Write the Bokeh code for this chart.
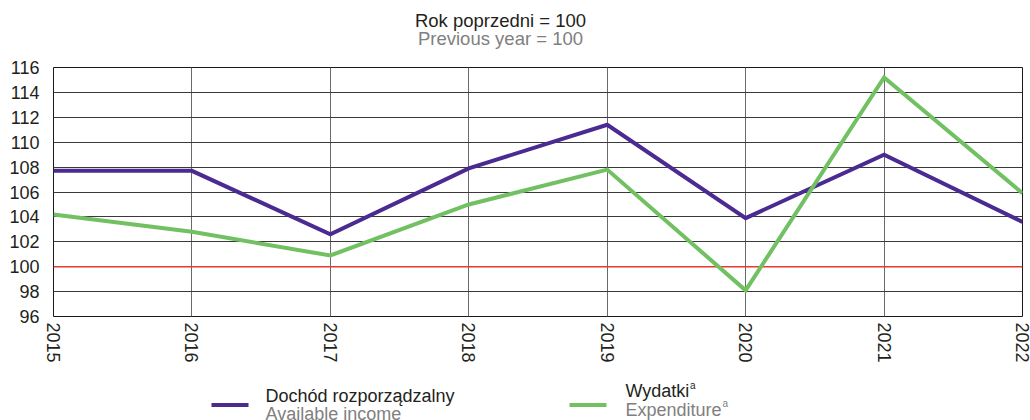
from bokeh.plotting import figure
from bokeh.models import Range1d, FixedTicker, Span
from bokeh.layouts import column
from bokeh.core.properties import value
from bokeh.embed import file_html
from bokeh.resources import INLINE

# ---- data ----
years = [2015, 2016, 2017, 2018, 2019, 2020, 2021, 2022]
year_labels = ["2015", "2016", "2017", "2018", "2019", "2020", "2021", "2022"]
income = [107.7, 107.7, 102.6, 107.9, 111.4, 103.9, 109.0, 103.6]
expenditure = [104.2, 102.8, 100.9, 105.0, 107.8, 98.1, 115.2, 105.9]
y_ticks = [96, 98, 100, 102, 104, 106, 108, 110, 112, 114, 116]
reference_level = 100
title_pl = "Rok poprzedni = 100"
title_en = "Previous year = 100"
series_pl = ["Dochód rozporządzalny", "Wydatki"]
series_en = ["Available income", "Expenditure"]
series_sup = ["", "a"]

FONT = "Liberation Sans"
PURPLE = "#4b2b91"
GREEN = "#71c163"
DARK = "#231f20"
GREY = "#808080"
W = 1030
BL, BR = 53, 8          # left / right borders shared by all stacked figures


def blank(h):
    # x data units == page pixels (frame spans BL..W-BR), y data units == pixels from top
    f = figure(width=W, height=h, output_backend="svg", toolbar_location=None,
               x_range=Range1d(BL, W - BR), y_range=Range1d(h, 0),
               min_border_left=BL, min_border_right=BR, min_border_top=0, min_border_bottom=0,
               outline_line_color=None)
    f.axis.visible = False
    f.grid.visible = False
    return f


# ---- title ----
TH = 58
t = blank(TH)
t.text(x=[500], y=[20], text=[title_pl], text_font=value(FONT), text_font_size="18.5px",
       text_color=DARK, text_align="center", text_baseline="middle")
t.text(x=[500], y=[37.5], text=[title_en], text_font=value(FONT), text_font_size="18.5px",
       text_color=GREY, text_align="center", text_baseline="middle")

# ---- main chart ----
p = figure(width=W, height=322, output_backend="svg", toolbar_location=None,
           x_range=Range1d(years[0], years[-1]), y_range=Range1d(y_ticks[0], y_ticks[-1]),
           min_border_left=BL, min_border_right=BR, min_border_top=9, min_border_bottom=64)
p.outline_line_color = "#1a1a1a"
p.outline_line_width = 1

p.xaxis.ticker = FixedTicker(ticks=years)
p.xaxis.major_label_overrides = {y: l for y, l in zip(years, year_labels)}
p.xaxis.major_label_orientation = "vertical"
p.yaxis.ticker = FixedTicker(ticks=y_ticks)
for ax in (p.xaxis, p.yaxis):
    ax.axis_line_color = None
    ax.major_tick_line_color = None
    ax.minor_tick_line_color = None
    ax.major_tick_out = 0
    ax.major_tick_in = 0
    ax.major_label_text_font = FONT
    ax.major_label_text_font_size = "18px"
    ax.major_label_text_color = DARK
p.yaxis.major_label_standoff = 14
p.xaxis.major_label_standoff = 6

p.ygrid.grid_line_color = "#3a3a3a"
p.ygrid.grid_line_width = 1
p.xgrid.grid_line_color = "#6a6a6a"
p.xgrid.grid_line_width = 1

p.add_layout(Span(location=reference_level, dimension="width", line_color="#e8392f",
                  line_width=1.5, level="underlay"))

p.line(years, income, line_color=PURPLE, line_width=4, line_join="miter")
p.line(years, expenditure, line_color=GREEN, line_width=4, line_join="miter")

# ---- legend (page y 380..420) ----
LH = 40
lg = blank(LH)
sw_x0 = [211, 569]
sw_len = 37
sw_y = 24.5
txt_x = [265, 625]
pl_base = [15, 10.5]
en_base = [33, 29]
colors = [PURPLE, GREEN]
for i in range(2):
    lg.segment(x0=[sw_x0[i]], y0=[sw_y], x1=[sw_x0[i] + sw_len], y1=[sw_y],
               line_color=colors[i], line_width=4)
    lg.text(x=[txt_x[i]], y=[pl_base[i]], text=[series_pl[i]], text_font=value(FONT),
            text_font_size="18px", text_color=DARK, text_baseline="alphabetic")
    lg.text(x=[txt_x[i]], y=[en_base[i]], text=[series_en[i]], text_font=value(FONT),
            text_font_size="18px", text_color=GREY, text_baseline="alphabetic")
# superscript markers
lg.text(x=[txt_x[1] + 64.5], y=[pl_base[1] - 6], text=[series_sup[1]], text_font=value(FONT),
        text_font_size="10px", text_color=DARK, text_baseline="alphabetic")
lg.text(x=[txt_x[1] + 97], y=[en_base[1] - 6], text=[series_sup[1]], text_font=value(FONT),
        text_font_size="10px", text_color=GREY, text_baseline="alphabetic")

layout = column(t, p, lg, spacing=0)
open("out.html", "w").write(file_html(layout, INLINE))
